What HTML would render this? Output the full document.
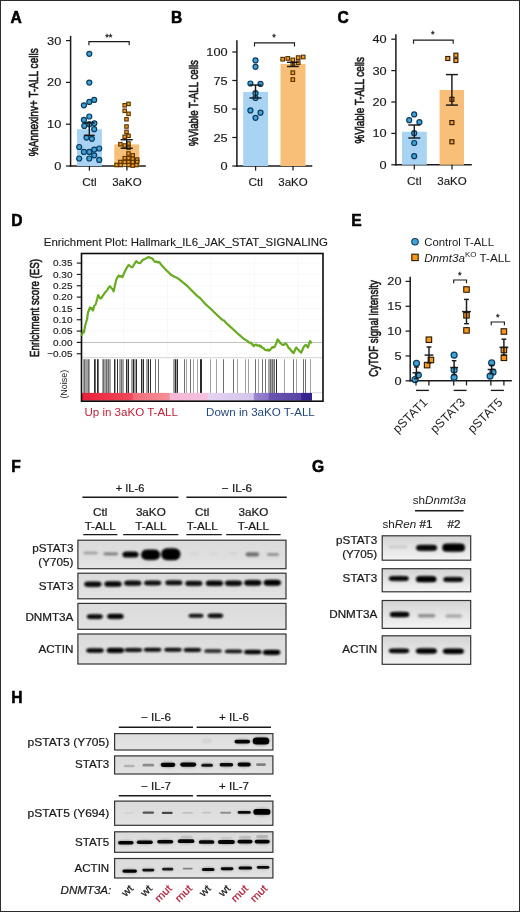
<!DOCTYPE html>
<html><head><meta charset="utf-8"><title>Figure</title>
<style>
html,body{margin:0;padding:0;background:#fff;}
body{width:520px;height:912px;overflow:hidden;position:relative;font-family:"Liberation Sans",sans-serif;}
#frame{position:absolute;left:0;top:0;width:518px;height:910px;border:1px solid #2b2b2b;pointer-events:none;}
svg{position:absolute;left:0;top:0;display:block;will-change:transform;opacity:0.9999;}
svg text{font-family:"Liberation Sans",sans-serif;}
</style></head>
<body>
<svg width="520" height="912" viewBox="0 0 520 912">
<text x="10.399999999999999" y="22.8" font-size="15.6" text-anchor="start" font-weight="bold" fill="#000" stroke="#000" stroke-width="0.55">A</text>
<text x="170.89999999999998" y="22.5" font-size="15.6" text-anchor="start" font-weight="bold" fill="#000" stroke="#000" stroke-width="0.55">B</text>
<text x="337.4" y="22.5" font-size="15.6" text-anchor="start" font-weight="bold" fill="#000" stroke="#000" stroke-width="0.55">C</text>
<text x="11.299999999999999" y="226.20000000000002" font-size="15.6" text-anchor="start" font-weight="bold" fill="#000" stroke="#000" stroke-width="0.55">D</text>
<text x="351.3" y="226.20000000000002" font-size="15.6" text-anchor="start" font-weight="bold" fill="#000" stroke="#000" stroke-width="0.55">E</text>
<text x="11.299999999999999" y="472.40000000000003" font-size="15.6" text-anchor="start" font-weight="bold" fill="#000" stroke="#000" stroke-width="0.55">F</text>
<text x="311.9" y="472.2" font-size="15.6" text-anchor="start" font-weight="bold" fill="#000" stroke="#000" stroke-width="0.55">G</text>
<text x="11.299999999999999" y="702.8" font-size="15.6" text-anchor="start" font-weight="bold" fill="#000" stroke="#000" stroke-width="0.55">H</text>
<line x1="70.6" y1="35.8" x2="70.6" y2="166.75" stroke="#1a1a1a" stroke-width="1.5"/>
<line x1="69.85" y1="166.0" x2="145.8" y2="166.0" stroke="#1a1a1a" stroke-width="1.5"/>
<line x1="66.0" y1="166.0" x2="70.6" y2="166.0" stroke="#1a1a1a" stroke-width="1.25"/>
<text transform="translate(61.3 170.0) scale(1.13 1)" font-size="11.3" text-anchor="end" font-weight="normal" fill="#1a1a1a" stroke="#1a1a1a" stroke-width="0.15">0</text>
<line x1="66.0" y1="124.2" x2="70.6" y2="124.2" stroke="#1a1a1a" stroke-width="1.25"/>
<text transform="translate(61.3 128.2) scale(1.13 1)" font-size="11.3" text-anchor="end" font-weight="normal" fill="#1a1a1a" stroke="#1a1a1a" stroke-width="0.15">10</text>
<line x1="66.0" y1="82.4" x2="70.6" y2="82.4" stroke="#1a1a1a" stroke-width="1.25"/>
<text transform="translate(61.3 86.4) scale(1.13 1)" font-size="11.3" text-anchor="end" font-weight="normal" fill="#1a1a1a" stroke="#1a1a1a" stroke-width="0.15">20</text>
<line x1="66.0" y1="40.60000000000001" x2="70.6" y2="40.60000000000001" stroke="#1a1a1a" stroke-width="1.25"/>
<text transform="translate(61.3 44.60000000000001) scale(1.13 1)" font-size="11.3" text-anchor="end" font-weight="normal" fill="#1a1a1a" stroke="#1a1a1a" stroke-width="0.15">30</text>
<rect x="77" y="129.2" width="24.900000000000006" height="36.80000000000001" fill="#a9d3f2" stroke="none" stroke-width="0"/>
<rect x="114.3" y="144.4" width="24.89999999999999" height="21.599999999999994" fill="#f8bf78" stroke="none" stroke-width="0"/>
<line x1="89.4" y1="166.0" x2="89.4" y2="170.6" stroke="#1a1a1a" stroke-width="1.25"/>
<text x="89.4" y="185.8" font-size="11.8" text-anchor="middle" font-weight="normal" fill="#1a1a1a" stroke="#1a1a1a" stroke-width="0.15">Ctl</text>
<line x1="126.9" y1="166.0" x2="126.9" y2="170.6" stroke="#1a1a1a" stroke-width="1.25"/>
<text x="126.9" y="185.8" font-size="11.5" text-anchor="middle" font-weight="normal" fill="#1a1a1a" stroke="#1a1a1a" stroke-width="0.15">3aKO</text>
<circle cx="89.3" cy="53.8" r="2.5" fill="#3fa3d7" stroke="#0b3c60" stroke-width="1.2"/>
<circle cx="89.3" cy="82.6" r="2.5" fill="#3fa3d7" stroke="#0b3c60" stroke-width="1.2"/>
<circle cx="94.2" cy="99.9" r="2.5" fill="#3fa3d7" stroke="#0b3c60" stroke-width="1.2"/>
<circle cx="89.3" cy="101.9" r="2.5" fill="#3fa3d7" stroke="#0b3c60" stroke-width="1.2"/>
<circle cx="83.9" cy="105.3" r="2.5" fill="#3fa3d7" stroke="#0b3c60" stroke-width="1.2"/>
<circle cx="89.3" cy="116.5" r="2.5" fill="#3fa3d7" stroke="#0b3c60" stroke-width="1.2"/>
<circle cx="83.9" cy="119.9" r="2.5" fill="#3fa3d7" stroke="#0b3c60" stroke-width="1.2"/>
<circle cx="94.4" cy="123.3" r="2.5" fill="#3fa3d7" stroke="#0b3c60" stroke-width="1.2"/>
<circle cx="89.3" cy="124.2" r="2.5" fill="#3fa3d7" stroke="#0b3c60" stroke-width="1.2"/>
<circle cx="84.3" cy="125.9" r="2.5" fill="#3fa3d7" stroke="#0b3c60" stroke-width="1.2"/>
<circle cx="94.2" cy="129.2" r="2.5" fill="#3fa3d7" stroke="#0b3c60" stroke-width="1.2"/>
<circle cx="86.5" cy="137.6" r="2.5" fill="#3fa3d7" stroke="#0b3c60" stroke-width="1.2"/>
<circle cx="91.9" cy="138.8" r="2.5" fill="#3fa3d7" stroke="#0b3c60" stroke-width="1.2"/>
<circle cx="79.2" cy="147" r="2.5" fill="#3fa3d7" stroke="#0b3c60" stroke-width="1.2"/>
<circle cx="99.2" cy="148.5" r="2.5" fill="#3fa3d7" stroke="#0b3c60" stroke-width="1.2"/>
<circle cx="94.2" cy="149.6" r="2.5" fill="#3fa3d7" stroke="#0b3c60" stroke-width="1.2"/>
<circle cx="83.9" cy="151.9" r="2.5" fill="#3fa3d7" stroke="#0b3c60" stroke-width="1.2"/>
<circle cx="89.3" cy="151.9" r="2.5" fill="#3fa3d7" stroke="#0b3c60" stroke-width="1.2"/>
<circle cx="94.2" cy="155.3" r="2.5" fill="#3fa3d7" stroke="#0b3c60" stroke-width="1.2"/>
<circle cx="79.2" cy="158.5" r="2.5" fill="#3fa3d7" stroke="#0b3c60" stroke-width="1.2"/>
<circle cx="89.3" cy="158.5" r="2.5" fill="#3fa3d7" stroke="#0b3c60" stroke-width="1.2"/>
<circle cx="99.2" cy="159.9" r="2.5" fill="#3fa3d7" stroke="#0b3c60" stroke-width="1.2"/>
<rect x="126.8" y="102.2" width="3.4" height="3.4" fill="#f2a02c" stroke="#5a3300" stroke-width="1.15"/>
<rect x="123.0" y="103.6" width="3.4" height="3.4" fill="#f2a02c" stroke="#5a3300" stroke-width="1.15"/>
<rect x="123.0" y="109.1" width="3.4" height="3.4" fill="#f2a02c" stroke="#5a3300" stroke-width="1.15"/>
<rect x="126.8" y="112.1" width="3.4" height="3.4" fill="#f2a02c" stroke="#5a3300" stroke-width="1.15"/>
<rect x="124.8" y="117.6" width="3.4" height="3.4" fill="#f2a02c" stroke="#5a3300" stroke-width="1.15"/>
<rect x="124.8" y="124.8" width="3.4" height="3.4" fill="#f2a02c" stroke="#5a3300" stroke-width="1.15"/>
<rect x="124.8" y="130.20000000000002" width="3.4" height="3.4" fill="#f2a02c" stroke="#5a3300" stroke-width="1.15"/>
<rect x="126.8" y="134.10000000000002" width="3.4" height="3.4" fill="#f2a02c" stroke="#5a3300" stroke-width="1.15"/>
<rect x="123.0" y="135.10000000000002" width="3.4" height="3.4" fill="#f2a02c" stroke="#5a3300" stroke-width="1.15"/>
<rect x="126.8" y="141.8" width="3.4" height="3.4" fill="#f2a02c" stroke="#5a3300" stroke-width="1.15"/>
<rect x="118.7" y="142.5" width="3.4" height="3.4" fill="#f2a02c" stroke="#5a3300" stroke-width="1.15"/>
<rect x="123.0" y="143.8" width="3.4" height="3.4" fill="#f2a02c" stroke="#5a3300" stroke-width="1.15"/>
<rect x="126.8" y="146.10000000000002" width="3.4" height="3.4" fill="#f2a02c" stroke="#5a3300" stroke-width="1.15"/>
<rect x="126.8" y="151.8" width="3.4" height="3.4" fill="#f2a02c" stroke="#5a3300" stroke-width="1.15"/>
<rect x="131.0" y="153.60000000000002" width="3.4" height="3.4" fill="#f2a02c" stroke="#5a3300" stroke-width="1.15"/>
<rect x="123.0" y="156.5" width="3.4" height="3.4" fill="#f2a02c" stroke="#5a3300" stroke-width="1.15"/>
<rect x="126.8" y="156.5" width="3.4" height="3.4" fill="#f2a02c" stroke="#5a3300" stroke-width="1.15"/>
<rect x="131.0" y="157.10000000000002" width="3.4" height="3.4" fill="#f2a02c" stroke="#5a3300" stroke-width="1.15"/>
<rect x="135.5" y="157.9" width="3.4" height="3.4" fill="#f2a02c" stroke="#5a3300" stroke-width="1.15"/>
<rect x="118.7" y="160.3" width="3.4" height="3.4" fill="#f2a02c" stroke="#5a3300" stroke-width="1.15"/>
<rect x="123.0" y="160.3" width="3.4" height="3.4" fill="#f2a02c" stroke="#5a3300" stroke-width="1.15"/>
<rect x="126.8" y="160.3" width="3.4" height="3.4" fill="#f2a02c" stroke="#5a3300" stroke-width="1.15"/>
<rect x="131.0" y="160.3" width="3.4" height="3.4" fill="#f2a02c" stroke="#5a3300" stroke-width="1.15"/>
<rect x="135.5" y="160.3" width="3.4" height="3.4" fill="#f2a02c" stroke="#5a3300" stroke-width="1.15"/>
<rect x="114.8" y="163.3" width="3.4" height="3.4" fill="#f2a02c" stroke="#5a3300" stroke-width="1.15"/>
<rect x="118.89999999999999" y="163.3" width="3.4" height="3.4" fill="#f2a02c" stroke="#5a3300" stroke-width="1.15"/>
<rect x="126.8" y="163.3" width="3.4" height="3.4" fill="#f2a02c" stroke="#5a3300" stroke-width="1.15"/>
<rect x="131.0" y="163.9" width="3.4" height="3.4" fill="#f2a02c" stroke="#5a3300" stroke-width="1.15"/>
<rect x="134.8" y="163.3" width="3.4" height="3.4" fill="#f2a02c" stroke="#5a3300" stroke-width="1.15"/>
<line x1="89.3" y1="122.9" x2="89.3" y2="135.4" stroke="#1a1a1a" stroke-width="1.45"/>
<line x1="83.89999999999999" y1="122.9" x2="94.7" y2="122.9" stroke="#1a1a1a" stroke-width="1.45"/>
<line x1="83.89999999999999" y1="135.4" x2="94.7" y2="135.4" stroke="#1a1a1a" stroke-width="1.45"/>
<line x1="126.7" y1="139.7" x2="126.7" y2="148.3" stroke="#1a1a1a" stroke-width="1.45"/>
<line x1="120.60000000000001" y1="139.7" x2="132.8" y2="139.7" stroke="#1a1a1a" stroke-width="1.45"/>
<line x1="120.60000000000001" y1="148.3" x2="132.8" y2="148.3" stroke="#1a1a1a" stroke-width="1.45"/>
<path d="M88.9 45.2V41.6H129.2V45.2" fill="none" stroke="#1a1a1a" stroke-width="1.15"/>
<text x="108.8" y="39.6" font-size="9.2" text-anchor="middle" font-weight="normal" fill="#1a1a1a" stroke="#1a1a1a" stroke-width="0.3">**</text>
<text x="38.3" y="102.3" font-size="12.3" text-anchor="middle" font-weight="normal" fill="#1a1a1a" transform="rotate(-90 38.3 102.3)" textLength="108" lengthAdjust="spacingAndGlyphs" stroke="#1a1a1a" stroke-width="0.62">%Annexinv+ T-ALL cells</text>
<line x1="236.9" y1="40.3" x2="236.9" y2="166.75" stroke="#1a1a1a" stroke-width="1.5"/>
<line x1="236.15" y1="166.0" x2="312.3" y2="166.0" stroke="#1a1a1a" stroke-width="1.5"/>
<line x1="232.3" y1="166.0" x2="236.9" y2="166.0" stroke="#1a1a1a" stroke-width="1.25"/>
<text transform="translate(227.6 170.0) scale(1.13 1)" font-size="11.3" text-anchor="end" font-weight="normal" fill="#1a1a1a" stroke="#1a1a1a" stroke-width="0.15">0</text>
<line x1="232.3" y1="137.5" x2="236.9" y2="137.5" stroke="#1a1a1a" stroke-width="1.25"/>
<text transform="translate(227.6 141.5) scale(1.13 1)" font-size="11.3" text-anchor="end" font-weight="normal" fill="#1a1a1a" stroke="#1a1a1a" stroke-width="0.15">25</text>
<line x1="232.3" y1="109.0" x2="236.9" y2="109.0" stroke="#1a1a1a" stroke-width="1.25"/>
<text transform="translate(227.6 113.0) scale(1.13 1)" font-size="11.3" text-anchor="end" font-weight="normal" fill="#1a1a1a" stroke="#1a1a1a" stroke-width="0.15">50</text>
<line x1="232.3" y1="80.50000000000001" x2="236.9" y2="80.50000000000001" stroke="#1a1a1a" stroke-width="1.25"/>
<text transform="translate(227.6 84.50000000000001) scale(1.13 1)" font-size="11.3" text-anchor="end" font-weight="normal" fill="#1a1a1a" stroke="#1a1a1a" stroke-width="0.15">75</text>
<line x1="232.3" y1="52.000000000000014" x2="236.9" y2="52.000000000000014" stroke="#1a1a1a" stroke-width="1.25"/>
<text transform="translate(227.6 56.000000000000014) scale(1.13 1)" font-size="11.3" text-anchor="end" font-weight="normal" fill="#1a1a1a" stroke="#1a1a1a" stroke-width="0.15">100</text>
<rect x="243.2" y="91.9" width="24.900000000000034" height="74.1" fill="#a9d3f2" stroke="none" stroke-width="0"/>
<rect x="280.5" y="63.9" width="25.0" height="102.1" fill="#f8bf78" stroke="none" stroke-width="0"/>
<line x1="255.6" y1="166.0" x2="255.6" y2="170.6" stroke="#1a1a1a" stroke-width="1.25"/>
<text x="255.6" y="185.8" font-size="11.8" text-anchor="middle" font-weight="normal" fill="#1a1a1a" stroke="#1a1a1a" stroke-width="0.15">Ctl</text>
<line x1="293" y1="166.0" x2="293" y2="170.6" stroke="#1a1a1a" stroke-width="1.25"/>
<text x="293" y="185.8" font-size="11.5" text-anchor="middle" font-weight="normal" fill="#1a1a1a" stroke="#1a1a1a" stroke-width="0.15">3aKO</text>
<circle cx="255.5" cy="60.4" r="2.5" fill="#3fa3d7" stroke="#0b3c60" stroke-width="1.2"/>
<circle cx="255.5" cy="66.8" r="2.5" fill="#3fa3d7" stroke="#0b3c60" stroke-width="1.2"/>
<circle cx="250.4" cy="83.5" r="2.5" fill="#3fa3d7" stroke="#0b3c60" stroke-width="1.2"/>
<circle cx="260.5" cy="83.9" r="2.5" fill="#3fa3d7" stroke="#0b3c60" stroke-width="1.2"/>
<circle cx="255.5" cy="93.2" r="2.5" fill="#3fa3d7" stroke="#0b3c60" stroke-width="1.2"/>
<circle cx="255.5" cy="98" r="2.5" fill="#3fa3d7" stroke="#0b3c60" stroke-width="1.2"/>
<circle cx="250.4" cy="110.4" r="2.5" fill="#3fa3d7" stroke="#0b3c60" stroke-width="1.2"/>
<circle cx="260.5" cy="112.7" r="2.5" fill="#3fa3d7" stroke="#0b3c60" stroke-width="1.2"/>
<circle cx="255.5" cy="117.8" r="2.5" fill="#3fa3d7" stroke="#0b3c60" stroke-width="1.2"/>
<rect x="280.9" y="57.400000000000006" width="3.6" height="3.6" fill="#f2a02c" stroke="#5a3300" stroke-width="1.15"/>
<rect x="286.0" y="56.6" width="3.6" height="3.6" fill="#f2a02c" stroke="#5a3300" stroke-width="1.15"/>
<rect x="291.0" y="58.1" width="3.6" height="3.6" fill="#f2a02c" stroke="#5a3300" stroke-width="1.15"/>
<rect x="296.4" y="55.800000000000004" width="3.6" height="3.6" fill="#f2a02c" stroke="#5a3300" stroke-width="1.15"/>
<rect x="301.4" y="55.2" width="3.6" height="3.6" fill="#f2a02c" stroke="#5a3300" stroke-width="1.15"/>
<rect x="296.4" y="60.900000000000006" width="3.6" height="3.6" fill="#f2a02c" stroke="#5a3300" stroke-width="1.15"/>
<rect x="291.0" y="62.60000000000001" width="3.6" height="3.6" fill="#f2a02c" stroke="#5a3300" stroke-width="1.15"/>
<rect x="291.0" y="70.9" width="3.6" height="3.6" fill="#f2a02c" stroke="#5a3300" stroke-width="1.15"/>
<rect x="291.0" y="77.8" width="3.6" height="3.6" fill="#f2a02c" stroke="#5a3300" stroke-width="1.15"/>
<line x1="255.5" y1="85" x2="255.5" y2="98" stroke="#1a1a1a" stroke-width="1.45"/>
<line x1="249.5" y1="85" x2="261.5" y2="85" stroke="#1a1a1a" stroke-width="1.45"/>
<line x1="249.5" y1="98" x2="261.5" y2="98" stroke="#1a1a1a" stroke-width="1.45"/>
<line x1="292.9" y1="62.3" x2="292.9" y2="66.5" stroke="#1a1a1a" stroke-width="1.45"/>
<line x1="287.0" y1="62.3" x2="298.79999999999995" y2="62.3" stroke="#1a1a1a" stroke-width="1.45"/>
<line x1="287.0" y1="66.5" x2="298.79999999999995" y2="66.5" stroke="#1a1a1a" stroke-width="1.45"/>
<path d="M254.5 46.4V42.8H294.5V46.4" fill="none" stroke="#1a1a1a" stroke-width="1.15"/>
<text x="274.1" y="40.4" font-size="9.2" text-anchor="middle" font-weight="normal" fill="#1a1a1a" stroke="#1a1a1a" stroke-width="0.3">*</text>
<text x="198.3" y="103" font-size="12.3" text-anchor="middle" font-weight="normal" fill="#1a1a1a" transform="rotate(-90 198.3 103)" textLength="86" lengthAdjust="spacingAndGlyphs" stroke="#1a1a1a" stroke-width="0.62">%Viable T-ALL cells</text>
<line x1="395.9" y1="34.3" x2="395.9" y2="165.55" stroke="#1a1a1a" stroke-width="1.5"/>
<line x1="395.15" y1="164.8" x2="471.8" y2="164.8" stroke="#1a1a1a" stroke-width="1.5"/>
<line x1="391.29999999999995" y1="164.8" x2="395.9" y2="164.8" stroke="#1a1a1a" stroke-width="1.25"/>
<text transform="translate(386.59999999999997 168.8) scale(1.13 1)" font-size="11.3" text-anchor="end" font-weight="normal" fill="#1a1a1a" stroke="#1a1a1a" stroke-width="0.15">0</text>
<line x1="391.29999999999995" y1="133.4" x2="395.9" y2="133.4" stroke="#1a1a1a" stroke-width="1.25"/>
<text transform="translate(386.59999999999997 137.4) scale(1.13 1)" font-size="11.3" text-anchor="end" font-weight="normal" fill="#1a1a1a" stroke="#1a1a1a" stroke-width="0.15">10</text>
<line x1="391.29999999999995" y1="102.0" x2="395.9" y2="102.0" stroke="#1a1a1a" stroke-width="1.25"/>
<text transform="translate(386.59999999999997 106.0) scale(1.13 1)" font-size="11.3" text-anchor="end" font-weight="normal" fill="#1a1a1a" stroke="#1a1a1a" stroke-width="0.15">20</text>
<line x1="391.29999999999995" y1="70.60000000000001" x2="395.9" y2="70.60000000000001" stroke="#1a1a1a" stroke-width="1.25"/>
<text transform="translate(386.59999999999997 74.60000000000001) scale(1.13 1)" font-size="11.3" text-anchor="end" font-weight="normal" fill="#1a1a1a" stroke="#1a1a1a" stroke-width="0.15">30</text>
<line x1="391.29999999999995" y1="39.2" x2="395.9" y2="39.2" stroke="#1a1a1a" stroke-width="1.25"/>
<text transform="translate(386.59999999999997 43.2) scale(1.13 1)" font-size="11.3" text-anchor="end" font-weight="normal" fill="#1a1a1a" stroke="#1a1a1a" stroke-width="0.15">40</text>
<rect x="402" y="131.8" width="24.80000000000001" height="33.0" fill="#a9d3f2" stroke="none" stroke-width="0"/>
<rect x="439.6" y="90" width="24.399999999999977" height="74.80000000000001" fill="#f8bf78" stroke="none" stroke-width="0"/>
<line x1="414.3" y1="164.8" x2="414.3" y2="169.4" stroke="#1a1a1a" stroke-width="1.25"/>
<text x="414.3" y="184.8" font-size="11.8" text-anchor="middle" font-weight="normal" fill="#1a1a1a" stroke="#1a1a1a" stroke-width="0.15">Ctl</text>
<line x1="452" y1="164.8" x2="452" y2="169.4" stroke="#1a1a1a" stroke-width="1.25"/>
<text x="452" y="184.8" font-size="11.5" text-anchor="middle" font-weight="normal" fill="#1a1a1a" stroke="#1a1a1a" stroke-width="0.15">3aKO</text>
<circle cx="414.2" cy="114.4" r="2.5" fill="#3fa3d7" stroke="#0b3c60" stroke-width="1.2"/>
<circle cx="409.2" cy="120.2" r="2.5" fill="#3fa3d7" stroke="#0b3c60" stroke-width="1.2"/>
<circle cx="419.4" cy="122.2" r="2.5" fill="#3fa3d7" stroke="#0b3c60" stroke-width="1.2"/>
<circle cx="414.2" cy="133.2" r="2.5" fill="#3fa3d7" stroke="#0b3c60" stroke-width="1.2"/>
<circle cx="414.2" cy="143" r="2.5" fill="#3fa3d7" stroke="#0b3c60" stroke-width="1.2"/>
<circle cx="414.2" cy="156.2" r="2.5" fill="#3fa3d7" stroke="#0b3c60" stroke-width="1.2"/>
<rect x="445.8" y="56.5" width="4.0" height="4.0" fill="#f3a23e" stroke="#3a1c00" stroke-width="1.15"/>
<rect x="453.9" y="53.2" width="4.0" height="4.0" fill="#f3a23e" stroke="#3a1c00" stroke-width="1.15"/>
<rect x="453.9" y="58.5" width="4.0" height="4.0" fill="#f3a23e" stroke="#3a1c00" stroke-width="1.15"/>
<rect x="449.9" y="97.3" width="4.0" height="4.0" fill="#f3a23e" stroke="#3a1c00" stroke-width="1.15"/>
<rect x="449.9" y="120.6" width="4.0" height="4.0" fill="#f3a23e" stroke="#3a1c00" stroke-width="1.15"/>
<rect x="449.9" y="139.8" width="4.0" height="4.0" fill="#f3a23e" stroke="#3a1c00" stroke-width="1.15"/>
<line x1="414.3" y1="125" x2="414.3" y2="138" stroke="#1a1a1a" stroke-width="1.45"/>
<line x1="408.3" y1="125" x2="420.3" y2="125" stroke="#1a1a1a" stroke-width="1.45"/>
<line x1="408.3" y1="138" x2="420.3" y2="138" stroke="#1a1a1a" stroke-width="1.45"/>
<line x1="451.9" y1="74.6" x2="451.9" y2="105.1" stroke="#1a1a1a" stroke-width="1.45"/>
<line x1="445.9" y1="74.6" x2="457.9" y2="74.6" stroke="#1a1a1a" stroke-width="1.45"/>
<line x1="445.9" y1="105.1" x2="457.9" y2="105.1" stroke="#1a1a1a" stroke-width="1.45"/>
<path d="M413.5 43.7V40.1H453.2V43.7" fill="none" stroke="#1a1a1a" stroke-width="1.15"/>
<text x="432.8" y="36.9" font-size="9.2" text-anchor="middle" font-weight="normal" fill="#1a1a1a" stroke="#1a1a1a" stroke-width="0.3">*</text>
<text x="364.0" y="100.3" font-size="12.3" text-anchor="middle" font-weight="normal" fill="#1a1a1a" transform="rotate(-90 364.0 100.3)" textLength="86.5" lengthAdjust="spacingAndGlyphs" stroke="#1a1a1a" stroke-width="0.62">%Viable T-ALL cells</text>
<text x="43.8" y="245.5" font-size="10.8" text-anchor="start" font-weight="normal" fill="#1a1a1a" textLength="284" lengthAdjust="spacingAndGlyphs" stroke="#1a1a1a" stroke-width="0.12">Enrichment Plot: Hallmark_IL6_JAK_STAT_SIGNALING</text>
<line x1="123.7" y1="253.5" x2="123.7" y2="357.5" stroke="#f3f3f3" stroke-width="0.6"/>
<line x1="167.5" y1="253.5" x2="167.5" y2="357.5" stroke="#f3f3f3" stroke-width="0.6"/>
<line x1="211" y1="253.5" x2="211" y2="357.5" stroke="#f3f3f3" stroke-width="0.6"/>
<line x1="254.5" y1="253.5" x2="254.5" y2="357.5" stroke="#f3f3f3" stroke-width="0.6"/>
<line x1="298" y1="253.5" x2="298" y2="357.5" stroke="#f3f3f3" stroke-width="0.6"/>
<line x1="81.5" y1="263.1" x2="323.0" y2="263.1" stroke="#f3f3f3" stroke-width="0.6"/>
<line x1="76.8" y1="263.1" x2="81.5" y2="263.1" stroke="#1a1a1a" stroke-width="1.15"/>
<text transform="translate(72.5 266.25) scale(1.08 1)" font-size="9.3" text-anchor="end" font-weight="normal" fill="#1a1a1a" stroke="#1a1a1a" stroke-width="0.15">0.35</text>
<line x1="81.5" y1="274.43" x2="323.0" y2="274.43" stroke="#f3f3f3" stroke-width="0.6"/>
<line x1="76.8" y1="274.43" x2="81.5" y2="274.43" stroke="#1a1a1a" stroke-width="1.15"/>
<text transform="translate(72.5 277.58) scale(1.08 1)" font-size="9.3" text-anchor="end" font-weight="normal" fill="#1a1a1a" stroke="#1a1a1a" stroke-width="0.15">0.30</text>
<line x1="81.5" y1="285.76000000000005" x2="323.0" y2="285.76000000000005" stroke="#f3f3f3" stroke-width="0.6"/>
<line x1="76.8" y1="285.76000000000005" x2="81.5" y2="285.76000000000005" stroke="#1a1a1a" stroke-width="1.15"/>
<text transform="translate(72.5 288.91) scale(1.08 1)" font-size="9.3" text-anchor="end" font-weight="normal" fill="#1a1a1a" stroke="#1a1a1a" stroke-width="0.15">0.25</text>
<line x1="81.5" y1="297.09000000000003" x2="323.0" y2="297.09000000000003" stroke="#f3f3f3" stroke-width="0.6"/>
<line x1="76.8" y1="297.09000000000003" x2="81.5" y2="297.09000000000003" stroke="#1a1a1a" stroke-width="1.15"/>
<text transform="translate(72.5 300.24) scale(1.08 1)" font-size="9.3" text-anchor="end" font-weight="normal" fill="#1a1a1a" stroke="#1a1a1a" stroke-width="0.15">0.20</text>
<line x1="81.5" y1="308.42" x2="323.0" y2="308.42" stroke="#f3f3f3" stroke-width="0.6"/>
<line x1="76.8" y1="308.42" x2="81.5" y2="308.42" stroke="#1a1a1a" stroke-width="1.15"/>
<text transform="translate(72.5 311.57) scale(1.08 1)" font-size="9.3" text-anchor="end" font-weight="normal" fill="#1a1a1a" stroke="#1a1a1a" stroke-width="0.15">0.15</text>
<line x1="81.5" y1="319.75" x2="323.0" y2="319.75" stroke="#f3f3f3" stroke-width="0.6"/>
<line x1="76.8" y1="319.75" x2="81.5" y2="319.75" stroke="#1a1a1a" stroke-width="1.15"/>
<text transform="translate(72.5 322.9) scale(1.08 1)" font-size="9.3" text-anchor="end" font-weight="normal" fill="#1a1a1a" stroke="#1a1a1a" stroke-width="0.15">0.10</text>
<line x1="81.5" y1="331.08000000000004" x2="323.0" y2="331.08000000000004" stroke="#f3f3f3" stroke-width="0.6"/>
<line x1="76.8" y1="331.08000000000004" x2="81.5" y2="331.08000000000004" stroke="#1a1a1a" stroke-width="1.15"/>
<text transform="translate(72.5 334.23) scale(1.08 1)" font-size="9.3" text-anchor="end" font-weight="normal" fill="#1a1a1a" stroke="#1a1a1a" stroke-width="0.15">0.05</text>
<line x1="81.5" y1="342.41" x2="323.0" y2="342.41" stroke="#f3f3f3" stroke-width="0.6"/>
<line x1="76.8" y1="342.41" x2="81.5" y2="342.41" stroke="#1a1a1a" stroke-width="1.15"/>
<text transform="translate(72.5 345.56) scale(1.08 1)" font-size="9.3" text-anchor="end" font-weight="normal" fill="#1a1a1a" stroke="#1a1a1a" stroke-width="0.15">0.00</text>
<line x1="81.5" y1="353.74" x2="323.0" y2="353.74" stroke="#f3f3f3" stroke-width="0.6"/>
<line x1="76.8" y1="353.74" x2="81.5" y2="353.74" stroke="#1a1a1a" stroke-width="1.15"/>
<text transform="translate(72.5 356.89) scale(1.08 1)" font-size="9.3" text-anchor="end" font-weight="normal" fill="#1a1a1a" stroke="#1a1a1a" stroke-width="0.15">−0.05</text>
<line x1="81.5" y1="342.5" x2="323.0" y2="342.5" stroke="#b4b4b4" stroke-width="0.8"/>
<line x1="81.5" y1="357.7" x2="323.0" y2="357.7" stroke="#c8c8c8" stroke-width="0.8"/>
<rect x="83" y="359.2" width="1" height="33.8" fill="#a2a2a2" stroke="none" stroke-width="0"/>
<rect x="84" y="359.2" width="1" height="33.8" fill="#6e6e6e" stroke="none" stroke-width="0"/>
<rect x="85" y="359.2" width="1" height="33.8" fill="#a2a2a2" stroke="none" stroke-width="0"/>
<rect x="86" y="359.2" width="1" height="33.8" fill="#a2a2a2" stroke="none" stroke-width="0"/>
<rect x="87" y="359.2" width="1" height="33.8" fill="#a2a2a2" stroke="none" stroke-width="0"/>
<rect x="88" y="359.2" width="1" height="33.8" fill="#6e6e6e" stroke="none" stroke-width="0"/>
<rect x="89" y="359.2" width="1" height="33.8" fill="#a2a2a2" stroke="none" stroke-width="0"/>
<rect x="94" y="359.2" width="1" height="33.8" fill="#2a2a2a" stroke="none" stroke-width="0"/>
<rect x="95" y="359.2" width="1" height="33.8" fill="#6e6e6e" stroke="none" stroke-width="0"/>
<rect x="97" y="359.2" width="1" height="33.8" fill="#2a2a2a" stroke="none" stroke-width="0"/>
<rect x="98" y="359.2" width="1" height="33.8" fill="#6e6e6e" stroke="none" stroke-width="0"/>
<rect x="102" y="359.2" width="1" height="33.8" fill="#a2a2a2" stroke="none" stroke-width="0"/>
<rect x="103" y="359.2" width="1" height="33.8" fill="#6e6e6e" stroke="none" stroke-width="0"/>
<rect x="104" y="359.2" width="1" height="33.8" fill="#a2a2a2" stroke="none" stroke-width="0"/>
<rect x="105" y="359.2" width="1" height="33.8" fill="#a2a2a2" stroke="none" stroke-width="0"/>
<rect x="106" y="359.2" width="1" height="33.8" fill="#6e6e6e" stroke="none" stroke-width="0"/>
<rect x="107" y="359.2" width="1" height="33.8" fill="#a2a2a2" stroke="none" stroke-width="0"/>
<rect x="108" y="359.2" width="1" height="33.8" fill="#6e6e6e" stroke="none" stroke-width="0"/>
<rect x="109" y="359.2" width="1" height="33.8" fill="#a2a2a2" stroke="none" stroke-width="0"/>
<rect x="110" y="359.2" width="1" height="33.8" fill="#a2a2a2" stroke="none" stroke-width="0"/>
<rect x="114" y="359.2" width="1" height="33.8" fill="#2a2a2a" stroke="none" stroke-width="0"/>
<rect x="115" y="359.2" width="1" height="33.8" fill="#a2a2a2" stroke="none" stroke-width="0"/>
<rect x="117" y="359.2" width="1" height="33.8" fill="#2a2a2a" stroke="none" stroke-width="0"/>
<rect x="119" y="359.2" width="1" height="33.8" fill="#a2a2a2" stroke="none" stroke-width="0"/>
<rect x="120" y="359.2" width="1" height="33.8" fill="#a2a2a2" stroke="none" stroke-width="0"/>
<rect x="121" y="359.2" width="1" height="33.8" fill="#6e6e6e" stroke="none" stroke-width="0"/>
<rect x="122" y="359.2" width="1" height="33.8" fill="#a2a2a2" stroke="none" stroke-width="0"/>
<rect x="123" y="359.2" width="1" height="33.8" fill="#a2a2a2" stroke="none" stroke-width="0"/>
<rect x="126" y="359.2" width="1" height="33.8" fill="#2a2a2a" stroke="none" stroke-width="0"/>
<rect x="127" y="359.2" width="1" height="33.8" fill="#a2a2a2" stroke="none" stroke-width="0"/>
<rect x="128" y="359.2" width="1" height="33.8" fill="#2a2a2a" stroke="none" stroke-width="0"/>
<rect x="131" y="359.2" width="1" height="33.8" fill="#a2a2a2" stroke="none" stroke-width="0"/>
<rect x="132" y="359.2" width="1" height="33.8" fill="#a2a2a2" stroke="none" stroke-width="0"/>
<rect x="133" y="359.2" width="1" height="33.8" fill="#2a2a2a" stroke="none" stroke-width="0"/>
<rect x="134" y="359.2" width="1" height="33.8" fill="#a2a2a2" stroke="none" stroke-width="0"/>
<rect x="135" y="359.2" width="1" height="33.8" fill="#a2a2a2" stroke="none" stroke-width="0"/>
<rect x="136" y="359.2" width="1" height="33.8" fill="#2a2a2a" stroke="none" stroke-width="0"/>
<rect x="141" y="359.2" width="1" height="33.8" fill="#2a2a2a" stroke="none" stroke-width="0"/>
<rect x="142" y="359.2" width="1" height="33.8" fill="#a2a2a2" stroke="none" stroke-width="0"/>
<rect x="143" y="359.2" width="1" height="33.8" fill="#2a2a2a" stroke="none" stroke-width="0"/>
<rect x="146" y="359.2" width="1" height="33.8" fill="#a2a2a2" stroke="none" stroke-width="0"/>
<rect x="147" y="359.2" width="1" height="33.8" fill="#a2a2a2" stroke="none" stroke-width="0"/>
<rect x="148" y="359.2" width="1" height="33.8" fill="#2a2a2a" stroke="none" stroke-width="0"/>
<rect x="150" y="359.2" width="1" height="33.8" fill="#2a2a2a" stroke="none" stroke-width="0"/>
<rect x="155" y="359.2" width="1" height="33.8" fill="#6e6e6e" stroke="none" stroke-width="0"/>
<rect x="158" y="359.2" width="1" height="33.8" fill="#6e6e6e" stroke="none" stroke-width="0"/>
<rect x="173" y="359.2" width="1" height="33.8" fill="#a2a2a2" stroke="none" stroke-width="0"/>
<rect x="174" y="359.2" width="1" height="33.8" fill="#a2a2a2" stroke="none" stroke-width="0"/>
<rect x="175" y="359.2" width="1" height="33.8" fill="#2a2a2a" stroke="none" stroke-width="0"/>
<rect x="176" y="359.2" width="1" height="33.8" fill="#a2a2a2" stroke="none" stroke-width="0"/>
<rect x="177" y="359.2" width="1" height="33.8" fill="#2a2a2a" stroke="none" stroke-width="0"/>
<rect x="184" y="359.2" width="1" height="33.8" fill="#6e6e6e" stroke="none" stroke-width="0"/>
<rect x="186" y="359.2" width="1" height="33.8" fill="#a2a2a2" stroke="none" stroke-width="0"/>
<rect x="190" y="359.2" width="1" height="33.8" fill="#6e6e6e" stroke="none" stroke-width="0"/>
<rect x="193" y="359.2" width="1" height="33.8" fill="#a2a2a2" stroke="none" stroke-width="0"/>
<rect x="197" y="359.2" width="1" height="33.8" fill="#a2a2a2" stroke="none" stroke-width="0"/>
<rect x="200" y="359.2" width="1" height="33.8" fill="#2a2a2a" stroke="none" stroke-width="0"/>
<rect x="201" y="359.2" width="1" height="33.8" fill="#2a2a2a" stroke="none" stroke-width="0"/>
<rect x="210" y="359.2" width="1" height="33.8" fill="#a2a2a2" stroke="none" stroke-width="0"/>
<rect x="216" y="359.2" width="1" height="33.8" fill="#a2a2a2" stroke="none" stroke-width="0"/>
<rect x="223" y="359.2" width="1" height="33.8" fill="#6e6e6e" stroke="none" stroke-width="0"/>
<rect x="233" y="359.2" width="1" height="33.8" fill="#6e6e6e" stroke="none" stroke-width="0"/>
<rect x="237" y="359.2" width="1" height="33.8" fill="#a2a2a2" stroke="none" stroke-width="0"/>
<rect x="245" y="359.2" width="1" height="33.8" fill="#a2a2a2" stroke="none" stroke-width="0"/>
<rect x="248" y="359.2" width="1" height="33.8" fill="#a2a2a2" stroke="none" stroke-width="0"/>
<rect x="255" y="359.2" width="1" height="33.8" fill="#6e6e6e" stroke="none" stroke-width="0"/>
<rect x="258" y="359.2" width="1" height="33.8" fill="#a2a2a2" stroke="none" stroke-width="0"/>
<rect x="262" y="359.2" width="1" height="33.8" fill="#6e6e6e" stroke="none" stroke-width="0"/>
<rect x="265" y="359.2" width="1" height="33.8" fill="#6e6e6e" stroke="none" stroke-width="0"/>
<rect x="268" y="359.2" width="1" height="33.8" fill="#a2a2a2" stroke="none" stroke-width="0"/>
<rect x="269" y="359.2" width="1" height="33.8" fill="#a2a2a2" stroke="none" stroke-width="0"/>
<rect x="270" y="359.2" width="1" height="33.8" fill="#6e6e6e" stroke="none" stroke-width="0"/>
<rect x="271" y="359.2" width="1" height="33.8" fill="#a2a2a2" stroke="none" stroke-width="0"/>
<rect x="272" y="359.2" width="1" height="33.8" fill="#6e6e6e" stroke="none" stroke-width="0"/>
<rect x="273" y="359.2" width="1" height="33.8" fill="#a2a2a2" stroke="none" stroke-width="0"/>
<rect x="274" y="359.2" width="1" height="33.8" fill="#6e6e6e" stroke="none" stroke-width="0"/>
<rect x="276" y="359.2" width="1" height="33.8" fill="#2a2a2a" stroke="none" stroke-width="0"/>
<rect x="284" y="359.2" width="1" height="33.8" fill="#a2a2a2" stroke="none" stroke-width="0"/>
<rect x="293" y="359.2" width="1" height="33.8" fill="#6e6e6e" stroke="none" stroke-width="0"/>
<rect x="296" y="359.2" width="1" height="33.8" fill="#a2a2a2" stroke="none" stroke-width="0"/>
<rect x="303" y="359.2" width="1" height="33.8" fill="#6e6e6e" stroke="none" stroke-width="0"/>
<rect x="305" y="359.2" width="1" height="33.8" fill="#6e6e6e" stroke="none" stroke-width="0"/>
<rect x="310" y="359.2" width="1" height="33.8" fill="#a2a2a2" stroke="none" stroke-width="0"/>
<defs><linearGradient id="gs" x1="0" x2="1"><stop offset="0" stop-color="#e81c38"/><stop offset="0.08" stop-color="#ec3048"/><stop offset="0.22" stop-color="#ee4a5a"/><stop offset="0.225" stop-color="#f26a78"/><stop offset="0.30" stop-color="#f47f8a"/><stop offset="0.38" stop-color="#f48e96"/><stop offset="0.385" stop-color="#f6b7d3"/><stop offset="0.545" stop-color="#f4c2e0"/><stop offset="0.55" stop-color="#e4d2f0"/><stop offset="0.745" stop-color="#d4c6ec"/><stop offset="0.75" stop-color="#9b86cf"/><stop offset="0.81" stop-color="#8a73c6"/><stop offset="0.815" stop-color="#6a55b0"/><stop offset="0.95" stop-color="#5a44a6"/><stop offset="0.955" stop-color="#3a2590"/><stop offset="1" stop-color="#33218a"/></linearGradient></defs>
<rect x="81.5" y="392.9" width="230.5" height="7.8" fill="url(#gs)" stroke="none" stroke-width="0"/>
<line x1="312" y1="392.7" x2="323.0" y2="392.7" stroke="#cfcfcf" stroke-width="0.8"/>
<rect x="81.5" y="253.5" width="241.5" height="147.7" fill="none" stroke="#0c0c0c" stroke-width="1.6"/>
<path d="M82.0 335.0 L83.2 331.0 L84.0 332.4 L85.0 326.2 L86.2 322.0 L87.0 319.5 L88.0 312.5 L89.0 310.0 L90.0 307.5 L91.0 309.0 L91.8 308.0 L93.0 310.5 L94.2 306.0 L95.4 304.8 L96.2 302.5 L97.2 299.0 L98.2 295.0 L99.4 297.0 L100.3 298.5 L101.2 298.4 L102.6 296.0 L103.8 294.4 L105.0 292.5 L106.4 291.0 L107.6 289.6 L108.7 287.5 L110.0 286.2 L111.2 288.0 L112.4 289.0 L113.7 291.4 L114.8 286.0 L116.2 280.0 L117.4 277.6 L118.7 275.5 L120.0 276.6 L121.2 276.0 L122.5 277.2 L123.6 274.4 L125.0 271.2 L126.4 268.6 L127.6 266.4 L128.7 265.0 L130.0 266.0 L131.2 267.0 L132.5 267.2 L133.8 265.0 L135.0 263.0 L136.2 261.2 L137.6 262.4 L138.8 263.0 L140.0 263.2 L141.4 261.6 L142.6 260.0 L143.7 259.5 L145.0 259.0 L146.4 258.2 L147.6 257.6 L148.7 257.0 L150.0 257.8 L151.2 258.0 L152.5 258.7 L153.8 260.6 L155.0 262.0 L156.4 261.4 L157.55 262.5 L158.7 262.0 L159.85 262.7 L161.0 264.6 L161.9 265.57 L162.8 266.53 L163.7 267.5 L164.65 268.48 L165.6 269.45 L166.55 270.42 L167.5 271.4 L168.43 272.3 L169.35 273.2 L170.27 274.1 L171.2 275.0 L172.13 275.53 L173.07 276.07 L174.0 276.6 L174.88 276.95 L175.75 277.3 L176.62 277.65 L177.5 278.0 L178.62 278.9 L179.75 279.8 L180.88 280.7 L182.0 281.6 L182.92 282.37 L183.83 283.13 L184.75 283.9 L185.67 284.67 L186.58 285.43 L187.5 286.2 L188.5 287.2 L189.5 288.2 L190.5 289.2 L191.5 290.2 L192.5 291.2 L193.5 292.2 L194.5 293.2 L195.5 294.2 L196.5 295.2 L197.5 296.2 L198.75 297.1 L200.0 298.0 L201.0 299.12 L202.0 300.24 L203.0 301.36 L204.0 302.48 L205.0 303.6 L205.94 304.46 L206.88 305.33 L207.81 306.19 L208.75 307.05 L209.69 307.91 L210.62 308.77 L211.56 309.64 L212.5 310.5 L213.5 311.48 L214.5 312.46 L215.5 313.44 L216.5 314.42 L217.5 315.4 L218.5 316.32 L219.5 317.24 L220.5 318.16 L221.5 319.08 L222.5 320.0 L223.25 320.3 L224.0 320.6 L225.0 321.67 L226.0 322.73 L227.0 323.8 L227.92 324.62 L228.83 325.43 L229.75 326.25 L230.67 327.07 L231.58 327.88 L232.5 328.7 L233.42 329.55 L234.33 330.4 L235.25 331.25 L236.17 332.1 L237.08 332.95 L238.0 333.8 L238.95 334.62 L239.9 335.43 L240.85 336.25 L241.8 337.07 L242.75 337.88 L243.7 338.7 L244.8 339.4 L245.9 340.1 L247.0 340.8 L248.0 341.37 L249.0 342.53 L250.0 342.5 L251.0 342.55 L252.0 344.4 L252.85 344.4 L253.7 346.2 L254.8 345.0 L256.2 344.5 L257.4 345.65 L258.6 345.6 L259.47 345.2 L260.33 346.8 L261.2 346.2 L262.4 348.0 L263.6 348.2 L264.47 349.4 L265.33 350.0 L266.2 350.0 L267.1 350.4 L268.0 349.6 L269.0 350.6 L270.0 350.0 L271.2 348.4 L272.5 347.0 L273.8 347.4 L275.0 346.2 L276.2 343.4 L277.5 339.5 L278.8 340.6 L280.0 342.6 L281.2 343.7 L282.4 344.8 L283.7 345.0 L285.0 343.6 L286.2 343.8 L287.6 346.0 L288.8 348.15 L290.0 348.7 L290.9 350.65 L291.8 351.0 L292.75 352.6 L293.7 353.0 L295.0 350.0 L296.2 347.5 L297.4 349.0 L298.7 350.0 L300.0 351.6 L301.2 352.5 L302.4 350.0 L303.7 347.0 L305.0 345.4 L306.2 345.0 L307.2 346.6 L308.0 347.5 L309.0 344.0 L310.0 341.2 L311.2 342.5" fill="none" stroke="#68ab20" stroke-width="2.2" stroke-linejoin="round" stroke-linecap="round"/>
<text x="39.2" y="308" font-size="12.3" text-anchor="middle" font-weight="normal" fill="#1a1a1a" transform="rotate(-90 39.2 308)" textLength="98" lengthAdjust="spacingAndGlyphs" stroke="#1a1a1a" stroke-width="0.62">Enrichment score (ES)</text>
<text x="67.1" y="384.2" font-size="8.3" text-anchor="middle" font-weight="normal" fill="#1a1a1a" transform="rotate(-90 67.1 384.2)" textLength="28.8" lengthAdjust="spacingAndGlyphs">(Noise)</text>
<text x="84.4" y="415.7" font-size="11" text-anchor="start" font-weight="normal" fill="#c2203c" textLength="93.6" lengthAdjust="spacingAndGlyphs">Up in 3aKO T-ALL</text>
<text x="206.0" y="415.8" font-size="11" text-anchor="start" font-weight="normal" fill="#23487f" textLength="108.8" lengthAdjust="spacingAndGlyphs">Down in 3aKO T-ALL</text>
<line x1="410.2" y1="276.8" x2="410.2" y2="381.55" stroke="#1a1a1a" stroke-width="1.5"/>
<line x1="409.45" y1="380.8" x2="511.8" y2="380.8" stroke="#1a1a1a" stroke-width="1.5"/>
<line x1="405.59999999999997" y1="380.8" x2="410.2" y2="380.8" stroke="#1a1a1a" stroke-width="1.25"/>
<text transform="translate(401.5 384.8) scale(1.13 1)" font-size="11.3" text-anchor="end" font-weight="normal" fill="#1a1a1a" stroke="#1a1a1a" stroke-width="0.15">0</text>
<line x1="405.59999999999997" y1="355.95" x2="410.2" y2="355.95" stroke="#1a1a1a" stroke-width="1.25"/>
<text transform="translate(401.5 359.95) scale(1.13 1)" font-size="11.3" text-anchor="end" font-weight="normal" fill="#1a1a1a" stroke="#1a1a1a" stroke-width="0.15">5</text>
<line x1="405.59999999999997" y1="331.1" x2="410.2" y2="331.1" stroke="#1a1a1a" stroke-width="1.25"/>
<text transform="translate(401.5 335.1) scale(1.13 1)" font-size="11.3" text-anchor="end" font-weight="normal" fill="#1a1a1a" stroke="#1a1a1a" stroke-width="0.15">10</text>
<line x1="405.59999999999997" y1="306.25" x2="410.2" y2="306.25" stroke="#1a1a1a" stroke-width="1.25"/>
<text transform="translate(401.5 310.25) scale(1.13 1)" font-size="11.3" text-anchor="end" font-weight="normal" fill="#1a1a1a" stroke="#1a1a1a" stroke-width="0.15">15</text>
<line x1="405.59999999999997" y1="281.40000000000003" x2="410.2" y2="281.40000000000003" stroke="#1a1a1a" stroke-width="1.25"/>
<text transform="translate(401.5 285.40000000000003) scale(1.13 1)" font-size="11.3" text-anchor="end" font-weight="normal" fill="#1a1a1a" stroke="#1a1a1a" stroke-width="0.15">20</text>
<circle cx="415" cy="241.8" r="3.25" fill="#3fa3d7" stroke="#0b3c60" stroke-width="1.1"/>
<text x="424.2" y="245.9" font-size="11.8" text-anchor="start" font-weight="normal" fill="#1a1a1a" textLength="69.8" lengthAdjust="spacingAndGlyphs">Control T-ALL</text>
<rect x="411.8" y="254.2" width="6.4" height="6.4" fill="#f7981d" stroke="#2a1800" stroke-width="1.1"/>
<text x="424.2" y="261.7" font-size="11.8" fill="#1a1a1a" textLength="86.5" lengthAdjust="spacingAndGlyphs"><tspan font-style="italic">Dnmt3a</tspan><tspan font-size="8" dy="-4.3">KO</tspan><tspan dy="4.3"> T-ALL</tspan></text>
<circle cx="416.5" cy="363.3" r="3.0" fill="#3fa3d7" stroke="#0b3c60" stroke-width="1.2"/>
<circle cx="418.3" cy="375" r="3.0" fill="#3fa3d7" stroke="#0b3c60" stroke-width="1.2"/>
<circle cx="415" cy="379.6" r="3.0" fill="#3fa3d7" stroke="#0b3c60" stroke-width="1.2"/>
<rect x="426.15" y="336.95" width="5.5" height="5.5" fill="#f7981d" stroke="#2a1800" stroke-width="1.1"/>
<rect x="428.15" y="357.25" width="5.5" height="5.5" fill="#f7981d" stroke="#2a1800" stroke-width="1.1"/>
<rect x="424.35" y="362.35" width="5.5" height="5.5" fill="#f7981d" stroke="#2a1800" stroke-width="1.1"/>
<line x1="412.5" y1="372.8" x2="420.29999999999995" y2="372.8" stroke="#1a1a1a" stroke-width="1.45"/>
<line x1="416.4" y1="367" x2="416.4" y2="378.6" stroke="#1a1a1a" stroke-width="1.45"/>
<line x1="414.09999999999997" y1="367" x2="418.7" y2="367" stroke="#1a1a1a" stroke-width="1.45"/>
<line x1="414.09999999999997" y1="378.6" x2="418.7" y2="378.6" stroke="#1a1a1a" stroke-width="1.45"/>
<line x1="424.6" y1="355.1" x2="433.4" y2="355.1" stroke="#1a1a1a" stroke-width="1.45"/>
<line x1="429" y1="347" x2="429" y2="362.9" stroke="#1a1a1a" stroke-width="1.45"/>
<line x1="426.6" y1="347" x2="431.4" y2="347" stroke="#1a1a1a" stroke-width="1.45"/>
<line x1="426.6" y1="362.9" x2="431.4" y2="362.9" stroke="#1a1a1a" stroke-width="1.45"/>
<circle cx="454.1" cy="355.1" r="3.0" fill="#3fa3d7" stroke="#0b3c60" stroke-width="1.2"/>
<circle cx="454.1" cy="370" r="3.0" fill="#3fa3d7" stroke="#0b3c60" stroke-width="1.2"/>
<circle cx="454.1" cy="377.3" r="3.0" fill="#3fa3d7" stroke="#0b3c60" stroke-width="1.2"/>
<rect x="463.75" y="286.75" width="5.5" height="5.5" fill="#f7981d" stroke="#2a1800" stroke-width="1.1"/>
<rect x="463.75" y="312.55" width="5.5" height="5.5" fill="#f7981d" stroke="#2a1800" stroke-width="1.1"/>
<rect x="463.75" y="327.65" width="5.5" height="5.5" fill="#f7981d" stroke="#2a1800" stroke-width="1.1"/>
<line x1="450.20000000000005" y1="367.6" x2="458.0" y2="367.6" stroke="#1a1a1a" stroke-width="1.45"/>
<line x1="454.1" y1="360.7" x2="454.1" y2="374.6" stroke="#1a1a1a" stroke-width="1.45"/>
<line x1="451.8" y1="360.7" x2="456.40000000000003" y2="360.7" stroke="#1a1a1a" stroke-width="1.45"/>
<line x1="451.8" y1="374.6" x2="456.40000000000003" y2="374.6" stroke="#1a1a1a" stroke-width="1.45"/>
<line x1="462.1" y1="311.6" x2="470.9" y2="311.6" stroke="#1a1a1a" stroke-width="1.45"/>
<line x1="466.5" y1="299.4" x2="466.5" y2="323.7" stroke="#1a1a1a" stroke-width="1.45"/>
<line x1="464.1" y1="299.4" x2="468.9" y2="299.4" stroke="#1a1a1a" stroke-width="1.45"/>
<line x1="464.1" y1="323.7" x2="468.9" y2="323.7" stroke="#1a1a1a" stroke-width="1.45"/>
<circle cx="491.7" cy="362.9" r="3.0" fill="#3fa3d7" stroke="#0b3c60" stroke-width="1.2"/>
<circle cx="493" cy="372.2" r="3.0" fill="#3fa3d7" stroke="#0b3c60" stroke-width="1.2"/>
<circle cx="490.1" cy="376.1" r="3.0" fill="#3fa3d7" stroke="#0b3c60" stroke-width="1.2"/>
<rect x="501.15" y="328.75" width="5.5" height="5.5" fill="#f7981d" stroke="#2a1800" stroke-width="1.1"/>
<rect x="501.15" y="347.25" width="5.5" height="5.5" fill="#f7981d" stroke="#2a1800" stroke-width="1.1"/>
<rect x="501.15" y="355.05" width="5.5" height="5.5" fill="#f7981d" stroke="#2a1800" stroke-width="1.1"/>
<line x1="487.70000000000005" y1="369.5" x2="495.5" y2="369.5" stroke="#1a1a1a" stroke-width="1.45"/>
<line x1="491.6" y1="365.3" x2="491.6" y2="373.8" stroke="#1a1a1a" stroke-width="1.45"/>
<line x1="489.3" y1="365.3" x2="493.90000000000003" y2="365.3" stroke="#1a1a1a" stroke-width="1.45"/>
<line x1="489.3" y1="373.8" x2="493.90000000000003" y2="373.8" stroke="#1a1a1a" stroke-width="1.45"/>
<line x1="499.5" y1="347.4" x2="508.29999999999995" y2="347.4" stroke="#1a1a1a" stroke-width="1.45"/>
<line x1="503.9" y1="339.2" x2="503.9" y2="355.1" stroke="#1a1a1a" stroke-width="1.45"/>
<line x1="501.5" y1="339.2" x2="506.29999999999995" y2="339.2" stroke="#1a1a1a" stroke-width="1.45"/>
<line x1="501.5" y1="355.1" x2="506.29999999999995" y2="355.1" stroke="#1a1a1a" stroke-width="1.45"/>
<path d="M453.7 283.3V280H466.5V283.3" fill="none" stroke="#1a1a1a" stroke-width="1.15"/>
<text x="459.8" y="278.3" font-size="9.2" text-anchor="middle" font-weight="normal" fill="#1a1a1a" stroke="#1a1a1a" stroke-width="0.3">*</text>
<path d="M491.2 325.3V322H504.4V325.3" fill="none" stroke="#1a1a1a" stroke-width="1.15"/>
<text x="497.9" y="319.9" font-size="9.2" text-anchor="middle" font-weight="normal" fill="#1a1a1a" stroke="#1a1a1a" stroke-width="0.3">*</text>
<line x1="416" y1="380.8" x2="416" y2="385.40000000000003" stroke="#1a1a1a" stroke-width="1.25"/>
<line x1="428.9" y1="380.8" x2="428.9" y2="385.40000000000003" stroke="#1a1a1a" stroke-width="1.25"/>
<line x1="416" y1="390.4" x2="428.9" y2="390.4" stroke="#1a1a1a" stroke-width="1.35"/>
<text x="428.29999999999995" y="403.2" font-size="12.3" text-anchor="end" font-weight="normal" fill="#1a1a1a" transform="rotate(-45 428.29999999999995 403.2)">pSTAT1</text>
<line x1="453.7" y1="380.8" x2="453.7" y2="385.40000000000003" stroke="#1a1a1a" stroke-width="1.25"/>
<line x1="466.5" y1="380.8" x2="466.5" y2="385.40000000000003" stroke="#1a1a1a" stroke-width="1.25"/>
<line x1="453.7" y1="390.4" x2="466.5" y2="390.4" stroke="#1a1a1a" stroke-width="1.35"/>
<text x="465.9" y="403.2" font-size="12.3" text-anchor="end" font-weight="normal" fill="#1a1a1a" transform="rotate(-45 465.9 403.2)">pSTAT3</text>
<line x1="490.9" y1="380.8" x2="490.9" y2="385.40000000000003" stroke="#1a1a1a" stroke-width="1.25"/>
<line x1="503.9" y1="380.8" x2="503.9" y2="385.40000000000003" stroke="#1a1a1a" stroke-width="1.25"/>
<line x1="490.9" y1="390.4" x2="503.9" y2="390.4" stroke="#1a1a1a" stroke-width="1.35"/>
<text x="503.29999999999995" y="403.2" font-size="12.3" text-anchor="end" font-weight="normal" fill="#1a1a1a" transform="rotate(-45 503.29999999999995 403.2)">pSTAT5</text>
<text x="377.8" y="328.4" font-size="12.3" text-anchor="middle" font-weight="normal" fill="#1a1a1a" transform="rotate(-90 377.8 328.4)" textLength="96.5" lengthAdjust="spacingAndGlyphs" stroke="#1a1a1a" stroke-width="0.62">CyTOF signal intensity</text>
<defs><filter id="bl" x="-20%" y="-60%" width="140%" height="220%"><feGaussianBlur stdDeviation="0.72"/></filter><filter id="blF" x="-20%" y="-80%" width="140%" height="260%"><feGaussianBlur stdDeviation="1.05"/></filter><filter id="blG" x="-20%" y="-80%" width="140%" height="260%"><feGaussianBlur stdDeviation="0.9"/></filter><filter id="bl2" x="-20%" y="-60%" width="140%" height="220%"><feGaussianBlur stdDeviation="1.25"/></filter><linearGradient id="bgg" x1="0" y1="0" x2="0" y2="1"><stop offset="0" stop-color="#d4d4d4"/><stop offset="0.5" stop-color="#e4e4e4"/><stop offset="1" stop-color="#f3f3f3"/></linearGradient><linearGradient id="bgf" x1="0" y1="0" x2="0" y2="1"><stop offset="0" stop-color="#d9d9d9" stop-opacity="0.8"/><stop offset="0.5" stop-color="#dedede" stop-opacity="0.3"/><stop offset="1" stop-color="#e6e6e6" stop-opacity="0.8"/></linearGradient></defs>
<clipPath id="c1"><rect x="77.9" y="540.2" width="208.1" height="28.5"/></clipPath>
<rect x="77.9" y="540.2" width="208.1" height="28.5" fill="#dedede" stroke="none" stroke-width="0"/>
<rect x="77.9" y="540.2" width="208.1" height="28.5" fill="url(#bgf)" stroke="none" stroke-width="0"/>
<g clip-path="url(#c1)"><g filter="url(#bl2)">
<ellipse cx="130.50" cy="554.50" rx="8.65" ry="3.60" fill="#111" opacity="0.25"/>
<ellipse cx="150.60" cy="554.80" rx="10.20" ry="5.90" fill="#111" opacity="0.26"/>
<ellipse cx="170.80" cy="554.20" rx="10.30" ry="6.60" fill="#111" opacity="0.26"/>
</g><g filter="url(#blF)">
<rect x="83.35" y="551.85" width="14.5" height="2.3" rx="1.15" fill="#050505" opacity="0.3"/>
<rect x="103.55" y="552.55" width="14.5" height="2.7" rx="1.35" fill="#050505" opacity="0.46"/>
<rect x="122.75" y="551.65" width="15.5" height="5.699999999999999" rx="2.85" fill="#050505" opacity="0.97"/>
<rect x="141.30" y="549.76" width="18.6" height="10.07" rx="5.03" ry="5.03" fill="#050505" opacity="1"/>
<rect x="161.40" y="548.50" width="18.8" height="11.40" rx="5.20" ry="5.70" fill="#050505" opacity="1"/>
<rect x="189.50" y="552.70" width="9" height="1.8" rx="0.90" fill="#050505" opacity="0.06"/>
<rect x="210.00" y="552.70" width="8" height="1.8" rx="0.90" fill="#050505" opacity="0.06"/>
<rect x="229.00" y="552.50" width="8" height="1.8" rx="0.90" fill="#050505" opacity="0.08"/>
<rect x="245.65" y="552.31" width="13.5" height="4.18" rx="2.09" fill="#050505" opacity="0.5"/>
<rect x="267.00" y="553.10" width="12" height="3" rx="1.50" fill="#050505" opacity="0.34"/>
</g></g>
<rect x="77.9" y="540.2" width="208.1" height="28.5" fill="none" stroke="#333" stroke-width="1.2"/>
<clipPath id="c2"><rect x="77.9" y="573.2" width="208.1" height="25.6"/></clipPath>
<rect x="77.9" y="573.2" width="208.1" height="25.6" fill="#dedede" stroke="none" stroke-width="0"/>
<rect x="77.9" y="573.2" width="208.1" height="25.6" fill="url(#bgf)" stroke="none" stroke-width="0"/>
<g clip-path="url(#c2)"><g filter="url(#bl2)">
<ellipse cx="92.90" cy="584.20" rx="9.30" ry="3.20" fill="#111" opacity="0.25"/>
<ellipse cx="113.00" cy="584.00" rx="9.30" ry="3.35" fill="#111" opacity="0.25"/>
<ellipse cx="132.80" cy="583.20" rx="9.30" ry="3.10" fill="#111" opacity="0.24"/>
<ellipse cx="152.70" cy="583.00" rx="9.30" ry="3.00" fill="#111" opacity="0.24"/>
<ellipse cx="173.80" cy="582.80" rx="9.30" ry="3.00" fill="#111" opacity="0.24"/>
<ellipse cx="193.80" cy="583.40" rx="9.30" ry="3.00" fill="#111" opacity="0.24"/>
<ellipse cx="214.40" cy="583.20" rx="9.30" ry="3.30" fill="#111" opacity="0.25"/>
<ellipse cx="233.50" cy="583.20" rx="9.30" ry="3.20" fill="#111" opacity="0.25"/>
<ellipse cx="252.80" cy="582.80" rx="9.30" ry="3.40" fill="#111" opacity="0.25"/>
<ellipse cx="272.30" cy="582.80" rx="9.30" ry="3.55" fill="#111" opacity="0.26"/>
</g><g filter="url(#blF)">
<rect x="84.50" y="581.73" width="16.8" height="4.9399999999999995" rx="2.47" fill="#050505" opacity="0.95"/>
<rect x="104.60" y="581.39" width="16.8" height="5.225" rx="2.61" fill="#050505" opacity="0.97"/>
<rect x="124.40" y="580.83" width="16.8" height="4.75" rx="2.38" fill="#050505" opacity="0.93"/>
<rect x="144.30" y="580.72" width="16.8" height="4.56" rx="2.28" fill="#050505" opacity="0.92"/>
<rect x="165.40" y="580.52" width="16.8" height="4.56" rx="2.28" fill="#050505" opacity="0.92"/>
<rect x="185.40" y="581.12" width="16.8" height="4.56" rx="2.28" fill="#050505" opacity="0.92"/>
<rect x="206.00" y="580.63" width="16.8" height="5.13" rx="2.56" fill="#050505" opacity="0.97"/>
<rect x="225.10" y="580.73" width="16.8" height="4.9399999999999995" rx="2.47" fill="#050505" opacity="0.95"/>
<rect x="244.40" y="580.14" width="16.8" height="5.319999999999999" rx="2.66" fill="#050505" opacity="0.98"/>
<rect x="263.90" y="580.00" width="16.8" height="5.605" rx="2.80" fill="#050505" opacity="1"/>
</g></g>
<rect x="77.9" y="573.2" width="208.1" height="25.6" fill="none" stroke="#333" stroke-width="1.2"/>
<clipPath id="c3"><rect x="77.9" y="603.4" width="208.1" height="25.9"/></clipPath>
<rect x="77.9" y="603.4" width="208.1" height="25.9" fill="#dedede" stroke="none" stroke-width="0"/>
<rect x="77.9" y="603.4" width="208.1" height="25.9" fill="url(#bgf)" stroke="none" stroke-width="0"/>
<g clip-path="url(#c3)"><g filter="url(#bl2)">
<ellipse cx="94.80" cy="616.60" rx="8.65" ry="2.90" fill="#111" opacity="0.25"/>
<ellipse cx="115.40" cy="616.40" rx="8.90" ry="3.10" fill="#111" opacity="0.25"/>
<ellipse cx="196.00" cy="615.80" rx="8.15" ry="2.50" fill="#111" opacity="0.23"/>
<ellipse cx="215.40" cy="615.80" rx="8.40" ry="2.70" fill="#111" opacity="0.25"/>
</g><g filter="url(#blF)">
<rect x="87.05" y="614.42" width="15.5" height="4.369999999999999" rx="2.18" fill="#050505" opacity="0.97"/>
<rect x="107.40" y="614.02" width="16" height="4.75" rx="2.38" fill="#050505" opacity="0.98"/>
<rect x="188.75" y="614.00" width="14.5" height="3.61" rx="1.80" fill="#050505" opacity="0.9"/>
<rect x="207.90" y="613.80" width="15" height="3.9899999999999998" rx="1.99" fill="#050505" opacity="0.95"/>
</g></g>
<rect x="77.9" y="603.4" width="208.1" height="25.9" fill="none" stroke="#333" stroke-width="1.2"/>
<clipPath id="c4"><rect x="77.9" y="634.0" width="208.1" height="30.0"/></clipPath>
<rect x="77.9" y="634.0" width="208.1" height="30.0" fill="#dedede" stroke="none" stroke-width="0"/>
<rect x="77.9" y="634.0" width="208.1" height="30.0" fill="url(#bgf)" stroke="none" stroke-width="0"/>
<g clip-path="url(#c4)"><g filter="url(#bl2)">
<ellipse cx="95.00" cy="650.40" rx="9.40" ry="2.70" fill="#111" opacity="0.25"/>
<ellipse cx="115.40" cy="650.40" rx="9.40" ry="3.00" fill="#111" opacity="0.26"/>
<ellipse cx="133.40" cy="650.00" rx="9.40" ry="2.50" fill="#111" opacity="0.25"/>
<ellipse cx="152.60" cy="649.80" rx="9.40" ry="2.40" fill="#111" opacity="0.25"/>
<ellipse cx="173.00" cy="649.80" rx="9.40" ry="2.40" fill="#111" opacity="0.24"/>
<ellipse cx="192.40" cy="650.00" rx="9.40" ry="2.50" fill="#111" opacity="0.25"/>
<ellipse cx="213.00" cy="651.00" rx="9.40" ry="2.30" fill="#111" opacity="0.22"/>
<ellipse cx="233.60" cy="651.40" rx="9.40" ry="2.30" fill="#111" opacity="0.23"/>
<ellipse cx="252.80" cy="652.00" rx="9.40" ry="2.80" fill="#111" opacity="0.25"/>
<ellipse cx="271.60" cy="652.40" rx="9.40" ry="3.00" fill="#111" opacity="0.26"/>
</g><g filter="url(#blF)">
<rect x="86.50" y="648.40" width="17" height="3.9899999999999998" rx="1.99" fill="#050505" opacity="0.98"/>
<rect x="106.90" y="648.12" width="17" height="4.56" rx="2.28" fill="#050505" opacity="0.99"/>
<rect x="124.90" y="648.20" width="17" height="3.61" rx="1.80" fill="#050505" opacity="0.95"/>
<rect x="144.10" y="648.09" width="17" height="3.42" rx="1.71" fill="#050505" opacity="0.95"/>
<rect x="164.50" y="648.09" width="17" height="3.42" rx="1.71" fill="#050505" opacity="0.93"/>
<rect x="183.90" y="648.20" width="17" height="3.61" rx="1.80" fill="#050505" opacity="0.97"/>
<rect x="204.50" y="649.38" width="17" height="3.23" rx="1.61" fill="#050505" opacity="0.85"/>
<rect x="225.10" y="649.78" width="17" height="3.23" rx="1.61" fill="#050505" opacity="0.9"/>
<rect x="244.30" y="649.91" width="17" height="4.18" rx="2.09" fill="#050505" opacity="0.98"/>
<rect x="263.10" y="650.12" width="17" height="4.56" rx="2.28" fill="#050505" opacity="1"/>
</g></g>
<rect x="77.9" y="634.0" width="208.1" height="30.0" fill="none" stroke="#333" stroke-width="1.2"/>
<text transform="translate(73.4 551.6) scale(1.135 1)" font-size="10.3" text-anchor="end" font-weight="normal" fill="#1a1a1a" stroke="#1a1a1a" stroke-width="0.22">pSTAT3</text>
<text transform="translate(73.4 565.8) scale(1.135 1)" font-size="10.3" text-anchor="end" font-weight="normal" fill="#1a1a1a" stroke="#1a1a1a" stroke-width="0.22">(Y705)</text>
<text transform="translate(73.4 589.6) scale(1.135 1)" font-size="10.3" text-anchor="end" font-weight="normal" fill="#1a1a1a" stroke="#1a1a1a" stroke-width="0.22">STAT3</text>
<text transform="translate(73.4 620.8) scale(1.135 1)" font-size="10.3" text-anchor="end" font-weight="normal" fill="#1a1a1a" stroke="#1a1a1a" stroke-width="0.22">DNMT3A</text>
<text transform="translate(73.4 652.8) scale(1.135 1)" font-size="10.3" text-anchor="end" font-weight="normal" fill="#1a1a1a" stroke="#1a1a1a" stroke-width="0.22">ACTIN</text>
<text transform="translate(130 491.6) scale(1.135 1)" font-size="10.3" text-anchor="middle" font-weight="normal" fill="#1a1a1a" textLength="25.198237885462557" lengthAdjust="spacingAndGlyphs" stroke="#1a1a1a" stroke-width="0.22">+ IL-6</text>
<line x1="82.4" y1="497.2" x2="178.4" y2="497.2" stroke="#1a1a1a" stroke-width="1.45"/>
<text transform="translate(237 491.6) scale(1.135 1)" font-size="10.3" text-anchor="middle" font-weight="normal" fill="#1a1a1a" stroke="#1a1a1a" stroke-width="0.22">− IL-6</text>
<line x1="186.4" y1="497.2" x2="286.8" y2="497.2" stroke="#1a1a1a" stroke-width="1.45"/>
<text transform="translate(100.2 515.6) scale(1.135 1)" font-size="10.3" text-anchor="middle" font-weight="normal" fill="#1a1a1a" stroke="#1a1a1a" stroke-width="0.22">Ctl</text>
<text transform="translate(100.2 529.9) scale(1.135 1)" font-size="10.3" text-anchor="middle" font-weight="normal" fill="#1a1a1a" stroke="#1a1a1a" stroke-width="0.22">T-ALL</text>
<line x1="83.3" y1="534.6" x2="117.4" y2="534.6" stroke="#1a1a1a" stroke-width="1.45"/>
<text transform="translate(150.8 515.6) scale(1.135 1)" font-size="10.3" text-anchor="middle" font-weight="normal" fill="#1a1a1a" stroke="#1a1a1a" stroke-width="0.22">3aKO</text>
<text transform="translate(150.8 529.9) scale(1.135 1)" font-size="10.3" text-anchor="middle" font-weight="normal" fill="#1a1a1a" stroke="#1a1a1a" stroke-width="0.22">T-ALL</text>
<line x1="123.2" y1="534.6" x2="178.4" y2="534.6" stroke="#1a1a1a" stroke-width="1.45"/>
<text transform="translate(202.2 515.6) scale(1.135 1)" font-size="10.3" text-anchor="middle" font-weight="normal" fill="#1a1a1a" stroke="#1a1a1a" stroke-width="0.22">Ctl</text>
<text transform="translate(202.2 529.9) scale(1.135 1)" font-size="10.3" text-anchor="middle" font-weight="normal" fill="#1a1a1a" stroke="#1a1a1a" stroke-width="0.22">T-ALL</text>
<line x1="186.4" y1="534.6" x2="221.8" y2="534.6" stroke="#1a1a1a" stroke-width="1.45"/>
<text transform="translate(253.4 515.6) scale(1.135 1)" font-size="10.3" text-anchor="middle" font-weight="normal" fill="#1a1a1a" stroke="#1a1a1a" stroke-width="0.22">3aKO</text>
<text transform="translate(253.4 529.9) scale(1.135 1)" font-size="10.3" text-anchor="middle" font-weight="normal" fill="#1a1a1a" stroke="#1a1a1a" stroke-width="0.22">T-ALL</text>
<line x1="226.2" y1="534.6" x2="280.6" y2="534.6" stroke="#1a1a1a" stroke-width="1.45"/>
<clipPath id="c5"><rect x="382.2" y="535.8" width="88.5" height="24.4"/></clipPath>
<rect x="382.2" y="535.8" width="88.5" height="24.4" fill="#dedede" stroke="none" stroke-width="0"/>
<rect x="382.2" y="535.8" width="88.5" height="24.4" fill="url(#bgg)" stroke="none" stroke-width="0"/>
<g clip-path="url(#c5)"><g filter="url(#bl2)">
<ellipse cx="426.60" cy="547.80" rx="11.15" ry="3.80" fill="#111" opacity="0.25"/>
<ellipse cx="453.60" cy="547.60" rx="11.90" ry="4.80" fill="#111" opacity="0.26"/>
</g><g filter="url(#blG)">
<rect x="389.00" y="545.56" width="18" height="2.8800000000000003" rx="1.44" fill="#050505" opacity="0.1"/>
<rect x="416.35" y="544.92" width="20.5" height="5.760000000000001" rx="2.88" fill="#050505" opacity="0.95"/>
<rect x="442.60" y="543.82" width="22" height="7.5600000000000005" rx="3.20" fill="#050505" opacity="1"/>
</g></g>
<rect x="382.2" y="535.8" width="88.5" height="24.4" fill="none" stroke="#333" stroke-width="1.2"/>
<clipPath id="c6"><rect x="382.2" y="568.7" width="88.5" height="23.1"/></clipPath>
<rect x="382.2" y="568.7" width="88.5" height="23.1" fill="#dedede" stroke="none" stroke-width="0"/>
<rect x="382.2" y="568.7" width="88.5" height="23.1" fill="url(#bgg)" stroke="none" stroke-width="0"/>
<g clip-path="url(#c6)"><g filter="url(#bl2)">
<ellipse cx="398.80" cy="578.60" rx="10.65" ry="3.10" fill="#111" opacity="0.25"/>
<ellipse cx="426.20" cy="579.20" rx="10.90" ry="3.80" fill="#111" opacity="0.26"/>
<ellipse cx="453.20" cy="579.40" rx="10.65" ry="3.10" fill="#111" opacity="0.25"/>
</g><g filter="url(#blG)">
<rect x="389.05" y="576.35" width="19.5" height="4.5" rx="2.25" fill="#050505" opacity="0.98"/>
<rect x="416.20" y="576.32" width="20" height="5.760000000000001" rx="2.88" fill="#050505" opacity="1"/>
<rect x="443.45" y="577.15" width="19.5" height="4.5" rx="2.25" fill="#050505" opacity="0.97"/>
</g></g>
<rect x="382.2" y="568.7" width="88.5" height="23.1" fill="none" stroke="#333" stroke-width="1.2"/>
<clipPath id="c7"><rect x="382.2" y="600.5" width="88.5" height="27.9"/></clipPath>
<rect x="382.2" y="600.5" width="88.5" height="27.9" fill="#dedede" stroke="none" stroke-width="0"/>
<rect x="382.2" y="600.5" width="88.5" height="27.9" fill="url(#bgg)" stroke="none" stroke-width="0"/>
<g clip-path="url(#c7)"><g filter="url(#bl2)">
<ellipse cx="399.60" cy="614.60" rx="10.40" ry="3.40" fill="#111" opacity="0.25"/>
</g><g filter="url(#blG)">
<rect x="390.10" y="612.08" width="19" height="5.04" rx="2.52" fill="#050505" opacity="0.97"/>
<rect x="417.85" y="614.09" width="17.5" height="3.42" rx="1.71" fill="#050505" opacity="0.38"/>
<rect x="445.35" y="614.38" width="16.5" height="3.24" rx="1.62" fill="#050505" opacity="0.3"/>
</g></g>
<rect x="382.2" y="600.5" width="88.5" height="27.9" fill="none" stroke="#333" stroke-width="1.2"/>
<clipPath id="c8"><rect x="382.2" y="635.8" width="88.5" height="28.5"/></clipPath>
<rect x="382.2" y="635.8" width="88.5" height="28.5" fill="#dedede" stroke="none" stroke-width="0"/>
<rect x="382.2" y="635.8" width="88.5" height="28.5" fill="url(#bgg)" stroke="none" stroke-width="0"/>
<g clip-path="url(#c8)"><g filter="url(#bl2)">
<ellipse cx="399.00" cy="650.80" rx="10.90" ry="3.00" fill="#111" opacity="0.25"/>
<ellipse cx="426.40" cy="651.00" rx="11.15" ry="3.40" fill="#111" opacity="0.26"/>
<ellipse cx="453.40" cy="651.20" rx="11.15" ry="3.40" fill="#111" opacity="0.26"/>
</g><g filter="url(#blG)">
<rect x="389.00" y="648.64" width="20" height="4.32" rx="2.16" fill="#050505" opacity="0.97"/>
<rect x="416.15" y="648.48" width="20.5" height="5.04" rx="2.52" fill="#050505" opacity="1"/>
<rect x="443.15" y="648.68" width="20.5" height="5.04" rx="2.52" fill="#050505" opacity="1"/>
</g></g>
<rect x="382.2" y="635.8" width="88.5" height="28.5" fill="none" stroke="#333" stroke-width="1.2"/>
<text transform="translate(377.2 544.4) scale(1.135 1)" font-size="10.3" text-anchor="end" font-weight="normal" fill="#1a1a1a" stroke="#1a1a1a" stroke-width="0.22">pSTAT3</text>
<text transform="translate(377.2 557.8) scale(1.135 1)" font-size="10.3" text-anchor="end" font-weight="normal" fill="#1a1a1a" stroke="#1a1a1a" stroke-width="0.22">(Y705)</text>
<text transform="translate(377.2 582.4) scale(1.135 1)" font-size="10.3" text-anchor="end" font-weight="normal" fill="#1a1a1a" stroke="#1a1a1a" stroke-width="0.22">STAT3</text>
<text transform="translate(377.2 617.6) scale(1.135 1)" font-size="10.3" text-anchor="end" font-weight="normal" fill="#1a1a1a" stroke="#1a1a1a" stroke-width="0.22">DNMT3A</text>
<text transform="translate(377.2 652.8) scale(1.135 1)" font-size="10.3" text-anchor="end" font-weight="normal" fill="#1a1a1a" stroke="#1a1a1a" stroke-width="0.22">ACTIN</text>
<text transform="translate(439.3 504.3) scale(1.135 1)" font-size="10.3" text-anchor="middle" fill="#1a1a1a">sh<tspan font-style="italic">Dnmt3a</tspan></text>
<line x1="415" y1="510.8" x2="463.6" y2="510.8" stroke="#1a1a1a" stroke-width="1.45"/>
<text transform="translate(382.4 527.5) scale(1.135 1)" font-size="10.3" fill="#1a1a1a">sh<tspan font-style="italic">Ren</tspan></text>
<text transform="translate(426 527.5) scale(1.135 1)" font-size="10.3" text-anchor="middle" font-weight="normal" fill="#1a1a1a" stroke="#1a1a1a" stroke-width="0.22">#1</text>
<text transform="translate(454 527.5) scale(1.135 1)" font-size="10.3" text-anchor="middle" font-weight="normal" fill="#1a1a1a" stroke="#1a1a1a" stroke-width="0.22">#2</text>
<clipPath id="c9"><rect x="114.6" y="733.6" width="158.29999999999998" height="16.4"/></clipPath>
<rect x="114.6" y="733.6" width="158.29999999999998" height="16.4" fill="#e2e2e2" stroke="none" stroke-width="0"/>
<rect x="114.6" y="733.6" width="158.29999999999998" height="16.4" fill="url(#bgf)" stroke="none" stroke-width="0"/>
<g clip-path="url(#c9)"><g filter="url(#bl2)">
<ellipse cx="242.30" cy="741.60" rx="8.65" ry="2.90" fill="#111" opacity="0.25"/>
<ellipse cx="261.00" cy="741.00" rx="9.20" ry="4.80" fill="#111" opacity="0.26"/>
</g><g filter="url(#bl)">
<rect x="202.00" y="738.48" width="10" height="5.04" rx="2.52" fill="#050505" opacity="0.05"/>
<rect x="234.55" y="739.67" width="15.5" height="3.8639999999999994" rx="1.93" fill="#050505" opacity="0.97"/>
<rect x="252.70" y="737.47" width="16.6" height="7.06" rx="3.53" ry="3.53" fill="#050505" opacity="1"/>
</g></g>
<rect x="114.6" y="733.6" width="158.29999999999998" height="16.4" fill="none" stroke="#333" stroke-width="1.2"/>
<clipPath id="c10"><rect x="114.6" y="755.9" width="158.29999999999998" height="18.1"/></clipPath>
<rect x="114.6" y="755.9" width="158.29999999999998" height="18.1" fill="#dedede" stroke="none" stroke-width="0"/>
<rect x="114.6" y="755.9" width="158.29999999999998" height="18.1" fill="url(#bgf)" stroke="none" stroke-width="0"/>
<g clip-path="url(#c10)"><g filter="url(#bl2)">
<ellipse cx="168.00" cy="764.80" rx="8.15" ry="3.10" fill="#111" opacity="0.25"/>
<ellipse cx="188.20" cy="764.60" rx="8.90" ry="3.10" fill="#111" opacity="0.25"/>
<ellipse cx="207.10" cy="765.20" rx="6.65" ry="2.40" fill="#111" opacity="0.23"/>
<ellipse cx="226.40" cy="764.80" rx="7.65" ry="2.60" fill="#111" opacity="0.24"/>
<ellipse cx="244.20" cy="764.40" rx="7.40" ry="3.00" fill="#111" opacity="0.25"/>
</g><g filter="url(#bl)">
<rect x="123.70" y="764.80" width="11" height="2.4" rx="1.20" fill="#050505" opacity="0.2"/>
<rect x="142.55" y="763.80" width="11.5" height="2.8" rx="1.40" fill="#050505" opacity="0.38"/>
<rect x="160.75" y="762.70" width="14.5" height="4.2" rx="2.10" fill="#050505" opacity="0.97"/>
<rect x="180.20" y="762.50" width="16" height="4.2" rx="2.10" fill="#050505" opacity="0.97"/>
<rect x="201.35" y="763.69" width="11.5" height="3.024" rx="1.51" fill="#050505" opacity="0.88"/>
<rect x="219.65" y="763.12" width="13.5" height="3.36" rx="1.68" fill="#050505" opacity="0.93"/>
<rect x="237.70" y="762.38" width="13" height="4.032" rx="2.02" fill="#050505" opacity="0.97"/>
<rect x="256.00" y="763.20" width="10" height="2.8" rx="1.40" fill="#050505" opacity="0.42"/>
</g></g>
<rect x="114.6" y="755.9" width="158.29999999999998" height="18.1" fill="none" stroke="#333" stroke-width="1.2"/>
<clipPath id="c11"><rect x="114.6" y="801.1" width="158.29999999999998" height="24.2"/></clipPath>
<rect x="114.6" y="801.1" width="158.29999999999998" height="24.2" fill="#dedede" stroke="none" stroke-width="0"/>
<rect x="114.6" y="801.1" width="158.29999999999998" height="24.2" fill="url(#bgf)" stroke="none" stroke-width="0"/>
<g clip-path="url(#c11)"><g filter="url(#bl2)">
<ellipse cx="244.20" cy="812.40" rx="7.40" ry="1.90" fill="#111" opacity="0.24"/>
<ellipse cx="261.90" cy="811.90" rx="9.40" ry="4.00" fill="#111" opacity="0.26"/>
</g><g filter="url(#bl)">
<rect x="124.50" y="812.20" width="9" height="1.6" rx="0.80" fill="#050505" opacity="0.07"/>
<rect x="142.55" y="811.60" width="11.5" height="2.2" rx="1.10" fill="#050505" opacity="0.62"/>
<rect x="161.70" y="811.80" width="11" height="2.2" rx="1.10" fill="#050505" opacity="0.68"/>
<rect x="182.20" y="811.90" width="11" height="1.8" rx="0.90" fill="#050505" opacity="0.13"/>
<rect x="202.10" y="811.70" width="9" height="1.8" rx="0.90" fill="#050505" opacity="0.12"/>
<rect x="220.10" y="811.80" width="11" height="2" rx="1.00" fill="#050505" opacity="0.36"/>
<rect x="237.70" y="811.10" width="13" height="2.6" rx="1.30" fill="#050505" opacity="0.93"/>
<rect x="253.40" y="809.04" width="17" height="5.71" rx="2.86" ry="2.86" fill="#050505" opacity="1"/>
</g></g>
<rect x="114.6" y="801.1" width="158.29999999999998" height="24.2" fill="none" stroke="#333" stroke-width="1.2"/>
<clipPath id="c12"><rect x="114.6" y="831.8" width="158.29999999999998" height="20.5"/></clipPath>
<rect x="114.6" y="831.8" width="158.29999999999998" height="20.5" fill="#dedede" stroke="none" stroke-width="0"/>
<rect x="114.6" y="831.8" width="158.29999999999998" height="20.5" fill="url(#bgf)" stroke="none" stroke-width="0"/>
<g clip-path="url(#c12)"><g filter="url(#bl2)">
<ellipse cx="125.80" cy="842.70" rx="8.65" ry="2.60" fill="#111" opacity="0.25"/>
<ellipse cx="144.80" cy="842.20" rx="8.90" ry="2.70" fill="#111" opacity="0.25"/>
<ellipse cx="165.20" cy="841.80" rx="8.90" ry="2.70" fill="#111" opacity="0.25"/>
<ellipse cx="186.10" cy="841.20" rx="9.15" ry="2.80" fill="#111" opacity="0.25"/>
<ellipse cx="206.60" cy="842.00" rx="8.65" ry="2.80" fill="#111" opacity="0.25"/>
<ellipse cx="226.40" cy="842.00" rx="9.40" ry="3.00" fill="#111" opacity="0.25"/>
<ellipse cx="245.00" cy="841.60" rx="8.40" ry="2.90" fill="#111" opacity="0.25"/>
<ellipse cx="262.20" cy="841.60" rx="8.40" ry="2.90" fill="#111" opacity="0.25"/>
</g><g filter="url(#bl)">
<rect x="118.05" y="841.02" width="15.5" height="3.36" rx="1.68" fill="#050505" opacity="0.97"/>
<rect x="136.80" y="840.44" width="16" height="3.528" rx="1.76" fill="#050505" opacity="0.97"/>
<rect x="157.20" y="840.04" width="16" height="3.528" rx="1.76" fill="#050505" opacity="0.97"/>
<rect x="177.85" y="839.35" width="16.5" height="3.696" rx="1.85" fill="#050505" opacity="0.97"/>
<rect x="198.85" y="840.15" width="15.5" height="3.696" rx="1.85" fill="#050505" opacity="0.97"/>
<rect x="217.90" y="839.98" width="17" height="4.032" rx="2.02" fill="#050505" opacity="0.97"/>
<rect x="237.50" y="839.67" width="15" height="3.8639999999999994" rx="1.93" fill="#050505" opacity="0.97"/>
<rect x="254.70" y="839.67" width="15" height="3.8639999999999994" rx="1.93" fill="#050505" opacity="0.97"/>
<rect x="180.50" y="835.60" width="12" height="2.4" rx="1.20" fill="#050505" opacity="0.1"/>
<rect x="220.40" y="836.60" width="12" height="2" rx="1.00" fill="#050505" opacity="0.06"/>
<rect x="239.00" y="835.70" width="12" height="2.6" rx="1.30" fill="#050505" opacity="0.13"/>
<rect x="256.20" y="835.10" width="12" height="3" rx="1.50" fill="#050505" opacity="0.17"/>
</g></g>
<rect x="114.6" y="831.8" width="158.29999999999998" height="20.5" fill="none" stroke="#333" stroke-width="1.2"/>
<clipPath id="c13"><rect x="114.6" y="858.5" width="158.29999999999998" height="19.5"/></clipPath>
<rect x="114.6" y="858.5" width="158.29999999999998" height="19.5" fill="#dedede" stroke="none" stroke-width="0"/>
<rect x="114.6" y="858.5" width="158.29999999999998" height="19.5" fill="url(#bgf)" stroke="none" stroke-width="0"/>
<g clip-path="url(#c13)"><g filter="url(#bl2)">
<ellipse cx="129.70" cy="871.10" rx="8.15" ry="2.60" fill="#111" opacity="0.25"/>
<ellipse cx="148.30" cy="870.10" rx="6.90" ry="2.15" fill="#111" opacity="0.23"/>
<ellipse cx="167.70" cy="869.20" rx="6.40" ry="1.95" fill="#111" opacity="0.22"/>
<ellipse cx="208.20" cy="869.50" rx="7.15" ry="2.40" fill="#111" opacity="0.25"/>
<ellipse cx="227.10" cy="868.80" rx="7.15" ry="2.30" fill="#111" opacity="0.25"/>
<ellipse cx="245.30" cy="868.00" rx="7.65" ry="2.40" fill="#111" opacity="0.25"/>
<ellipse cx="263.10" cy="867.30" rx="7.15" ry="2.20" fill="#111" opacity="0.24"/>
</g><g filter="url(#bl)">
<rect x="122.45" y="869.42" width="14.5" height="3.36" rx="1.68" fill="#050505" opacity="0.98"/>
<rect x="142.30" y="868.80" width="12" height="2.604" rx="1.30" fill="#050505" opacity="0.9"/>
<rect x="162.20" y="867.85" width="11" height="2.7" rx="1.35" fill="#050505" opacity="0.85"/>
<rect x="182.70" y="867.70" width="10" height="1.8" rx="0.90" fill="#050505" opacity="0.42"/>
<rect x="201.95" y="867.99" width="12.5" height="3.024" rx="1.51" fill="#050505" opacity="0.95"/>
<rect x="220.85" y="867.37" width="12.5" height="2.856" rx="1.43" fill="#050505" opacity="0.95"/>
<rect x="238.55" y="866.49" width="13.5" height="3.024" rx="1.51" fill="#050505" opacity="0.96"/>
<rect x="256.85" y="865.96" width="12.5" height="2.688" rx="1.34" fill="#050505" opacity="0.93"/>
</g></g>
<rect x="114.6" y="858.5" width="158.29999999999998" height="19.5" fill="none" stroke="#333" stroke-width="1.2"/>
<text transform="translate(109.2 746.2) scale(1.05 1)" font-size="11" text-anchor="end" font-weight="normal" fill="#1a1a1a" textLength="77.71428571428571" lengthAdjust="spacingAndGlyphs" stroke="#1a1a1a" stroke-width="0.22">pSTAT3 (Y705)</text>
<text transform="translate(109.2 768.4) scale(1.05 1)" font-size="11" text-anchor="end" font-weight="normal" fill="#1a1a1a" stroke="#1a1a1a" stroke-width="0.22">STAT3</text>
<text transform="translate(109.2 817) scale(1.05 1)" font-size="11" text-anchor="end" font-weight="normal" fill="#1a1a1a" textLength="77.71428571428571" lengthAdjust="spacingAndGlyphs" stroke="#1a1a1a" stroke-width="0.22">pSTAT5 (Y694)</text>
<text transform="translate(109.2 845.6) scale(1.05 1)" font-size="11" text-anchor="end" font-weight="normal" fill="#1a1a1a" stroke="#1a1a1a" stroke-width="0.22">STAT5</text>
<text transform="translate(109.2 871.6) scale(1.05 1)" font-size="11" text-anchor="end" font-weight="normal" fill="#1a1a1a" stroke="#1a1a1a" stroke-width="0.22">ACTIN</text>
<text transform="translate(111.2 894) scale(1.05 1)" font-size="11" text-anchor="end" font-weight="normal" fill="#1a1a1a" font-style="italic" stroke="#1a1a1a" stroke-width="0.22">DNMT3A:</text>
<text transform="translate(156 720.8) scale(1.05 1)" font-size="11" text-anchor="middle" font-weight="normal" fill="#1a1a1a" stroke="#1a1a1a" stroke-width="0.22">− IL-6</text>
<line x1="118.8" y1="727.3" x2="193" y2="727.3" stroke="#1a1a1a" stroke-width="1.45"/>
<text transform="translate(234 720.8) scale(1.05 1)" font-size="11" text-anchor="middle" font-weight="normal" fill="#1a1a1a" stroke="#1a1a1a" stroke-width="0.22">+ IL-6</text>
<line x1="196.6" y1="727.3" x2="271" y2="727.3" stroke="#1a1a1a" stroke-width="1.45"/>
<text transform="translate(156 790) scale(1.05 1)" font-size="11" text-anchor="middle" font-weight="normal" fill="#1a1a1a" stroke="#1a1a1a" stroke-width="0.22">− IL-7</text>
<line x1="118.8" y1="795.8" x2="193" y2="795.8" stroke="#1a1a1a" stroke-width="1.45"/>
<text transform="translate(234 790) scale(1.05 1)" font-size="11" text-anchor="middle" font-weight="normal" fill="#1a1a1a" stroke="#1a1a1a" stroke-width="0.22">+ IL-7</text>
<line x1="196.6" y1="795.8" x2="271" y2="795.8" stroke="#1a1a1a" stroke-width="1.45"/>
<text transform="translate(133.9 889.2) rotate(-45) scale(1.08 1)" font-size="10.6" text-anchor="end" font-weight="normal" fill="#1a1a1a" stroke="#1a1a1a" stroke-width="0.22">wt</text>
<text transform="translate(152.8 889.2) rotate(-45) scale(1.08 1)" font-size="10.6" text-anchor="end" font-weight="normal" fill="#1a1a1a" stroke="#1a1a1a" stroke-width="0.22">wt</text>
<text transform="translate(172.5 889.2) rotate(-45) scale(1.08 1)" font-size="10.6" text-anchor="end" font-weight="normal" fill="#ad1f38" stroke="#ad1f38" stroke-width="0.22">mut</text>
<text transform="translate(192.7 889.2) rotate(-45) scale(1.08 1)" font-size="10.6" text-anchor="end" font-weight="normal" fill="#ad1f38" stroke="#ad1f38" stroke-width="0.22">mut</text>
<text transform="translate(211.6 889.2) rotate(-45) scale(1.08 1)" font-size="10.6" text-anchor="end" font-weight="normal" fill="#1a1a1a" stroke="#1a1a1a" stroke-width="0.22">wt</text>
<text transform="translate(230.9 889.2) rotate(-45) scale(1.08 1)" font-size="10.6" text-anchor="end" font-weight="normal" fill="#1a1a1a" stroke="#1a1a1a" stroke-width="0.22">wt</text>
<text transform="translate(248.7 889.2) rotate(-45) scale(1.08 1)" font-size="10.6" text-anchor="end" font-weight="normal" fill="#ad1f38" stroke="#ad1f38" stroke-width="0.22">mut</text>
<text transform="translate(267.90000000000003 889.2) rotate(-45) scale(1.08 1)" font-size="10.6" text-anchor="end" font-weight="normal" fill="#ad1f38" stroke="#ad1f38" stroke-width="0.22">mut</text>
<line x1="513.3" y1="1" x2="513.3" y2="911" stroke="#f6f6f6" stroke-width="0.6"/>
<line x1="1" y1="908.3" x2="512" y2="908.3" stroke="#f6f6f6" stroke-width="0.6"/>
</svg>
<div id="frame"></div>
</body></html>
